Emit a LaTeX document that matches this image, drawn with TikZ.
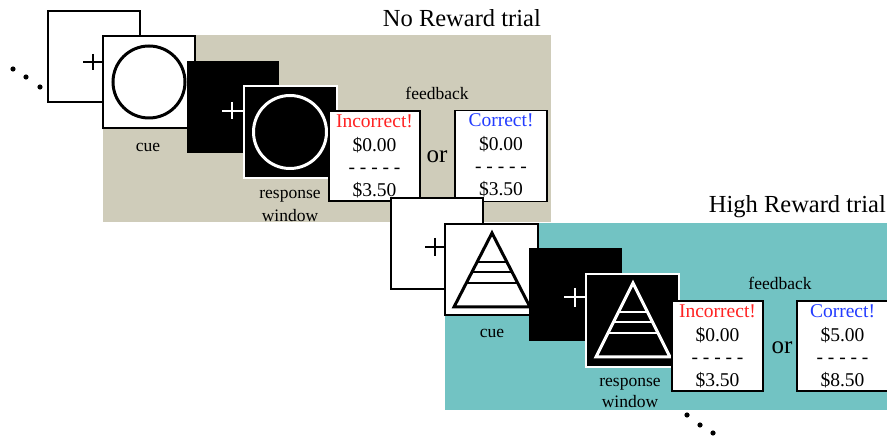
\documentclass[tikz,border=0pt]{standalone}
\usepackage{fontspec}
\setmainfont{Liberation Serif}
\usetikzlibrary{calc}
\definecolor{panelgray}{RGB}{207,204,186}
\definecolor{panelteal}{RGB}{114,195,195}
\definecolor{incred}{RGB}{255,35,35}
\definecolor{corblue}{RGB}{35,60,255}
\tikzset{
 sq/.style={rectangle, inner sep=0pt, minimum width=92pt, minimum height=92pt},
 fixbox/.style={sq, draw=black, fill=white, line width=1.5pt},
 cuebox/.style={sq, draw=black, fill=white, line width=1.5pt},
 blkbox/.style={sq, fill=black},
 respbox/.style={sq, fill=black, draw=white, line width=2pt},
 fbbox/.style={rectangle, inner sep=0pt, minimum width=91pt, minimum height=90pt, draw=black, fill=white, line width=1.6pt},
 lbl/.style={font=\fontsize{17.5}{21}\selectfont, anchor=base, inner sep=0pt},
 trialtitle/.style={font=\fontsize{24.5}{29}\selectfont, anchor=base east, inner sep=0pt},
 fbtxt/.style={font=\fontsize{19.5}{23}\selectfont, anchor=base, inner sep=0pt},
 ortxt/.style={font=\fontsize{25}{29}\selectfont, anchor=base, inner sep=0pt},
 crossline/.style={line width=1.6pt},
 figline/.style={line width=3pt},
 dotmark/.style={fill=black},
}
\begin{document}
\begin{tikzpicture}[x=1pt,y=-1pt]
\useasboundingbox (0,0) rectangle (887,438);
\clip (0,0) rectangle (887,438);
% ---------- No Reward trial ----------
\node[trialtitle] (title1) at (541,27) {No Reward trial};
\fill[panelgray] (103,35) rectangle (551,222);
\foreach \p in {{(13,69)},{(26,77)},{(40,87)}}{\fill[dotmark] \p circle[radius=2.6pt];}
\node[fixbox, minimum height=91pt] (fix1) at (94,56.5) {};
\draw[crossline] (83,62) -- (103,62) (93,54) -- (93,70);
\node[cuebox] (cue1) at (149,82) {};
\draw[figline] (cue1.center) circle[radius=36pt];
\node[lbl] (cue1lbl) at (148,152) {cue};
\node[blkbox] (blk1) at (233,107) {};
\draw[crossline, white] (222,111) -- (243,111) (232,102) -- (232,119);
\node[respbox, minimum width=93pt] (resp1) at (290,132) {};
\draw[figline, white] (resp1.center) circle[radius=36.5pt];
\node[lbl] (resp1a) at (290,199) {response};
\node[lbl] (resp1b) at (290,222) {window};
\node[lbl] (fb1) at (437,100) {feedback};
\node[fbbox] (inc1) at (374.5,156) {};
\node[fbtxt, text=incred] (inc1a) at ($(inc1.north)+(0,17)$) {Incorrect!};
\node[fbtxt] (inc1b) at ($(inc1.north)+(0,41)$) {\$0.00};
\node[fbtxt] (inc1c) at ($(inc1.north)+(0,63)$) {- - - - -};
\node[fbtxt] (inc1d) at ($(inc1.north)+(0,86)$) {\$3.50};
\node[ortxt] (or1) at (437,163) {or};
\node[fbbox, minimum width=92pt, minimum height=91pt] (cor1) at (501,156) {};
\node[fbtxt, text=corblue] (cor1a) at ($(cor1.north)+(0,17)$) {Correct!};
\node[fbtxt] (cor1b) at ($(cor1.north)+(0,41)$) {\$0.00};
\node[fbtxt] (cor1c) at ($(cor1.north)+(0,63)$) {- - - - -};
\node[fbtxt] (cor1d) at ($(cor1.north)+(0,86)$) {\$3.50};
% ---------- High Reward trial ----------
\node[trialtitle] (title2) at (886,213) {High Reward trial};
\fill[panelteal] (445,223) rectangle (887,410);
\node[fixbox, minimum height=91pt] (fix2) at (437,243.5) {};
\draw[crossline] (425,247) -- (446,247) (435,238) -- (435,256);
\node[cuebox, minimum width=93pt, minimum height=91pt] (cue2) at (491.5,269.5) {};
\coordinate (t1a) at (492,233);
\coordinate (t1l) at (454,307);
\coordinate (t1r) at (530,307);
\draw[figline, line join=miter] (t1a) -- (t1l) -- (t1r) -- cycle;
\foreach \t in {0.392,0.527,0.676}{\draw[line width=2.6pt] ($(t1a)!\t!(t1l)$) -- ($(t1a)!\t!(t1r)$);}
\node[lbl] (cue2lbl) at (492,338) {cue};
\node[blkbox, minimum width=93pt, minimum height=93pt] (blk2) at (575.5,294.5) {};
\draw[crossline, white] (564,297) -- (586,297) (575,288) -- (575,307);
\node[respbox, minimum width=93pt, minimum height=93pt] (resp2) at (632.5,320.5) {};
\coordinate (t2a) at (633,283);
\coordinate (t2l) at (596,357);
\coordinate (t2r) at (670,357);
\draw[figline, white, line join=miter] (t2a) -- (t2l) -- (t2r) -- cycle;
\foreach \t in {0.392,0.527,0.676}{\draw[line width=2.6pt, white] ($(t2a)!\t!(t2l)$) -- ($(t2a)!\t!(t2r)$);}
\node[lbl] (resp2a) at (630,387) {response};
\node[lbl] (resp2b) at (630,408) {window};
\node[lbl] (fb2) at (780,290) {feedback};
\node[fbbox] (inc2) at (717.5,346) {};
\node[fbtxt, text=incred] (inc2a) at ($(inc2.north)+(0,17)$) {Incorrect!};
\node[fbtxt] (inc2b) at ($(inc2.north)+(0,41)$) {\$0.00};
\node[fbtxt] (inc2c) at ($(inc2.north)+(0,63)$) {- - - - -};
\node[fbtxt] (inc2d) at ($(inc2.north)+(0,86)$) {\$3.50};
\node[ortxt] (or2) at (782,354) {or};
\node[fbbox] (cor2) at (842.5,346) {};
\node[fbtxt, text=corblue] (cor2a) at ($(cor2.north)+(0,17)$) {Correct!};
\node[fbtxt] (cor2b) at ($(cor2.north)+(0,41)$) {\$5.00};
\node[fbtxt] (cor2c) at ($(cor2.north)+(0,63)$) {- - - - -};
\node[fbtxt] (cor2d) at ($(cor2.north)+(0,86)$) {\$8.50};
\foreach \p in {{(687,415)},{(700,425)},{(713,433)}}{\fill[dotmark] \p circle[radius=2.6pt];}
\end{tikzpicture}
\end{document}
